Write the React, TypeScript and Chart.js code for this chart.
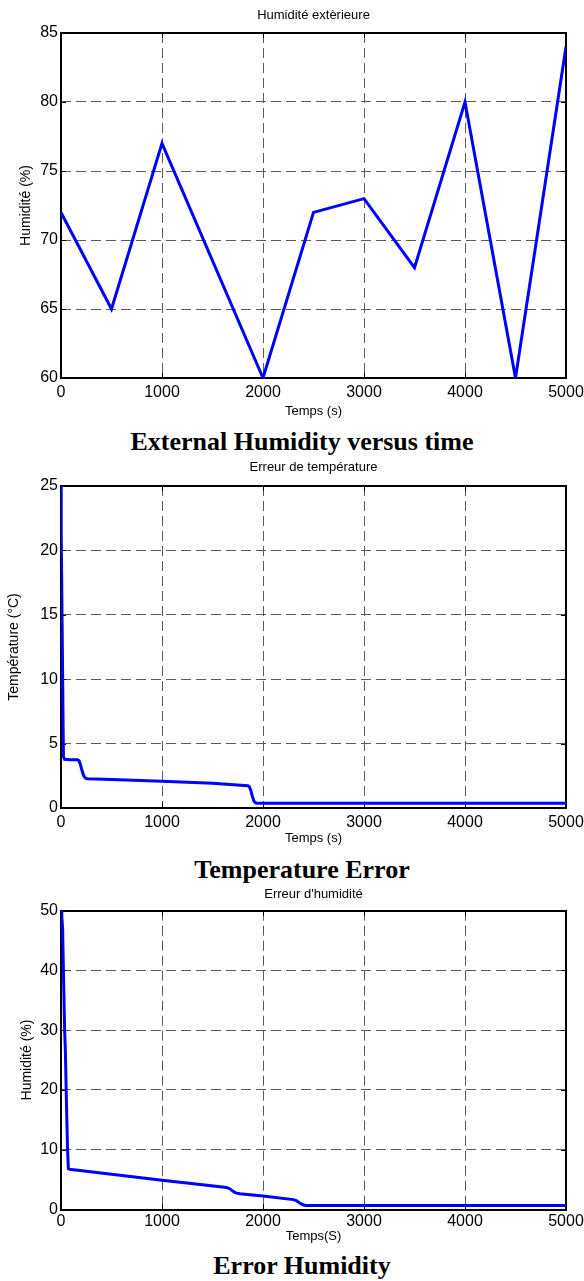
import React, { useEffect, useRef } from "react";
import { Chart, registerables } from "chart.js";

Chart.register(...registerables);

// ---------- Data ----------
const xTickValues = [0, 1000, 2000, 3000, 4000, 5000];

// Chart 1 : Humidité extèrieure
const humTime = [0, 500, 1000, 2000, 2500, 3000, 3500, 4000, 4500, 5000];
const humValues = [72, 65, 77, 60, 72, 73, 68, 80, 60, 84];

// Chart 2 : Erreur de température
const tempErrTime = [0, 2, 24, 35, 100, 165, 180, 195, 210, 225, 240, 260, 500, 1000, 1500, 1850, 1865, 1880, 1895, 1910, 1925, 1945, 3000, 5000];
const tempErrValues = [25, 21.5, 4.0, 3.78, 3.75, 3.74, 3.65, 3.3, 2.85, 2.5, 2.33, 2.28, 2.22, 2.08, 1.92, 1.73, 1.65, 1.35, 0.9, 0.55, 0.4, 0.37, 0.37, 0.37];

// Chart 3 : Erreur d'humidité
const humErrTime = [0, 8, 16, 24, 36, 43, 55, 65, 73, 85, 1000, 1400, 1640, 1670, 1700, 1730, 1770, 2000, 2300, 2330, 2360, 2390, 2420, 5000];
const humErrValues = [50, 49, 47, 40, 30, 26.7, 17, 10, 6.8, 6.7, 4.86, 4.1, 3.65, 3.45, 3.05, 2.75, 2.6, 2.23, 1.62, 1.45, 1.1, 0.8, 0.65, 0.65];

// ---------- Styling / layout ----------
const SANS = '"Liberation Sans", Arial, Helvetica, sans-serif';
const SERIF = '"Liberation Serif", "Times New Roman", serif';
const WIDTH = 584;

const framePlugin = {
  id: "matlabFrame",
  beforeDatasetsDraw(chart: any) {
    const { ctx, chartArea, scales } = chart;
    const { left, right, top, bottom } = chartArea;
    ctx.save();
    ctx.setLineDash([]);
    ctx.strokeStyle = "#000";
    ctx.lineWidth = 2;
    ctx.strokeRect(Math.round(left), Math.round(top), Math.round(right - left), Math.round(bottom - top));
    ctx.lineWidth = 1;
    const tl = 5;
    ctx.beginPath();
    scales.x.ticks.forEach((t: any) => {
      const px = Math.round(scales.x.getPixelForValue(t.value)) + 0.5;
      ctx.moveTo(px, bottom);
      ctx.lineTo(px, bottom - tl);
      ctx.moveTo(px, top);
      ctx.lineTo(px, top + tl);
    });
    scales.y.ticks.forEach((t: any) => {
      const py = Math.round(scales.y.getPixelForValue(t.value)) + 0.5;
      ctx.moveTo(left, py);
      ctx.lineTo(left + tl, py);
      ctx.moveTo(right, py);
      ctx.lineTo(right - tl, py);
    });
    ctx.stroke();
    ctx.restore();
  },
};

type Spec = {
  top: number;
  height: number;
  title: string;
  xLabel: string;
  yLabel: string;
  xs: number[];
  ys: number[];
  yMin: number;
  yMax: number;
  yStep: number;
  padTop: number;
  titlePadBottom: number;
  xTickPad: number;
  xAxisHeight: number;
  xTitlePadBottom: number;
  yTitlePadTop: number;
  caption: string;
  captionTop: number;
};

const specs: Spec[] = [
  {
    top: 0, height: 425,
    title: "Humidité extèrieure", xLabel: "Temps (s)", yLabel: "Humidité (%)",
    xs: humTime, ys: humValues, yMin: 60, yMax: 85, yStep: 5,
    padTop: 7.2, titlePadBottom: 10.2, xTickPad: 5.4, xAxisHeight: 47, xTitlePadBottom: 6.2, yTitlePadTop: 18.1,
    caption: "External Humidity versus time", captionTop: 428.9,
  },
  {
    top: 452, height: 403,
    title: "Erreur de température", xLabel: "Temps (s)", yLabel: "Température (°C)",
    xs: tempErrTime, ys: tempErrValues, yMin: 0, yMax: 25, yStep: 5,
    padTop: 7.7, titlePadBottom: 10.7, xTickPad: 4.9, xAxisHeight: 47, xTitlePadBottom: 8.7, yTitlePadTop: 5.3,
    caption: "Temperature Error", captionTop: 856.5,
  },
  {
    top: 880, height: 369,
    title: "Erreur d'humidité", xLabel: "Temps(S)", yLabel: "Humidité (%)",
    xs: humErrTime, ys: humErrValues, yMin: 0, yMax: 50, yStep: 10,
    padTop: 6.9, titlePadBottom: 8.2, xTickPad: 2.4, xAxisHeight: 39.7, xTitlePadBottom: 4.7, yTitlePadTop: 19.1,
    caption: "Error Humidity", captionTop: 1253.2,
  },
];

function Panel({ spec }: { spec: Spec }) {
  const ref = useRef<HTMLCanvasElement | null>(null);
  useEffect(() => {
    if (!ref.current) return;
    const chart = new Chart(ref.current, {
      type: "line",
      data: {
        datasets: [
          {
            data: spec.xs.map((x, i) => ({ x, y: spec.ys[i] })),
            borderColor: "#0000ff",
            borderWidth: 3,
            pointRadius: 0,
            fill: false,
            tension: 0,
          },
        ],
      },
      options: {
        animation: false,
        responsive: false,
        maintainAspectRatio: false,
        layout: { padding: { top: spec.padTop, right: 18, bottom: 0, left: 0 } },
        plugins: {
          legend: { display: false },
          tooltip: { enabled: false },
          title: {
            display: true,
            text: spec.title,
            fullSize: false,
            color: "#000",
            font: { family: SANS, size: 13, weight: "normal", lineHeight: 1.2 },
            padding: { top: 0, bottom: spec.titlePadBottom },
          },
        },
        scales: {
          x: {
            type: "linear",
            min: 0,
            max: 5000,
            afterBuildTicks: (s: any) => {
              s.ticks = xTickValues.map((v) => ({ value: v }));
            },
            afterFit: (s: any) => {
              s.height = spec.xAxisHeight;
              s.paddingLeft = 0;
              s.paddingRight = 0;
            },
            ticks: {
              color: "#000",
              font: { family: SANS, size: 16, lineHeight: 1.2 },
              padding: spec.xTickPad,
              maxRotation: 0,
              autoSkip: false,
              callback: (v: any) => String(v),
            },
            grid: { color: "#5a5a5a", lineWidth: 1, drawTicks: false },
            border: { display: false, dash: [10, 5] },
            title: {
              display: true,
              text: spec.xLabel,
              color: "#000",
              font: { family: SANS, size: 13, lineHeight: 1.2 },
              padding: { top: 0, bottom: spec.xTitlePadBottom },
            },
          },
          y: {
            type: "linear",
            min: spec.yMin,
            max: spec.yMax,
            ticks: {
              stepSize: spec.yStep,
              color: "#000",
              font: { family: SANS, size: 16, lineHeight: 1.2 },
              padding: 3,
              autoSkip: false,
            },
            afterFit: (s: any) => {
              s.width = 61;
              s.paddingTop = 0;
              s.paddingBottom = 0;
            },
            grid: { color: "#5a5a5a", lineWidth: 1, drawTicks: false },
            border: { display: false, dash: [10, 5] },
            title: {
              display: true,
              text: spec.yLabel,
              color: "#000",
              font: { family: SANS, size: 14, lineHeight: 1.2 },
              padding: { top: spec.yTitlePadTop, bottom: 0 },
            },
          },
        },
      },
      plugins: [framePlugin],
    } as any);
    return () => chart.destroy();
  }, [spec]);

  return (
    <>
      <canvas
        ref={ref}
        width={WIDTH}
        height={spec.height}
        style={{ position: "absolute", left: 0, top: spec.top, width: WIDTH, height: spec.height }}
      />
      <div
        style={{
          position: "absolute",
          left: 302,
          top: spec.captionTop,
          transform: "translateX(-50%)",
          whiteSpace: "nowrap",
          fontFamily: SERIF,
          fontWeight: "bold",
          fontSize: 26,
          lineHeight: "26px",
          color: "#000",
        }}
      >
        {spec.caption}
      </div>
    </>
  );
}

export default function App() {
  return (
    <div
      style={{
        position: "absolute",
        left: 0,
        top: 0,
        width: WIDTH,
        height: 1281,
        background: "#fff",
        overflow: "hidden",
      }}
    >
      {specs.map((s, i) => (
        <Panel key={i} spec={s} />
      ))}
    </div>
  );
}
